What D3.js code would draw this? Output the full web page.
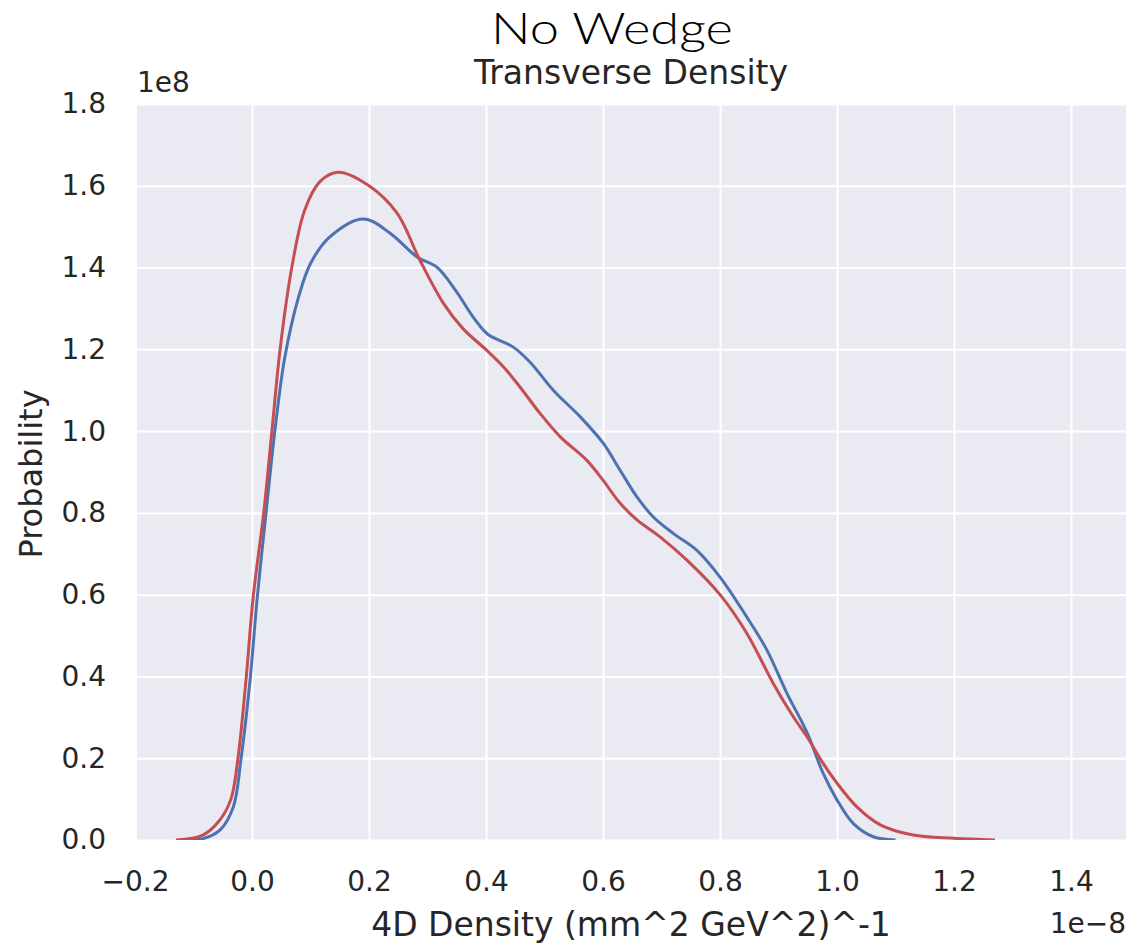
<!DOCTYPE html>
<html>
<head>
<meta charset="utf-8">
<script src="https://cdn.jsdelivr.net/npm/d3@7"></script>
<style>
  body { margin: 0; background: #fff; }
  text { font-family: "DejaVu Sans", sans-serif; fill: #262626; }
</style>
</head>
<body>
<svg id="viz" width="1132" height="947"></svg>
<script>
// tick values (x in units of 1e-8, y in units of 1e8)
var xTicks = [-0.2, 0.0, 0.2, 0.4, 0.6, 0.8, 1.0, 1.2, 1.4];
var yTicks = [0.0, 0.2, 0.4, 0.6, 0.8, 1.0, 1.2, 1.4, 1.6, 1.8];

// red KDE curve
var redX = [-0.13, -0.084, -0.055, -0.036, -0.024, -0.01, 0.002, 0.02, 0.034, 0.048, 0.068, 0.09, 0.116, 0.147,
            0.2, 0.248, 0.287, 0.327, 0.361, 0.401, 0.43, 0.458, 0.492, 0.527, 0.572, 0.6, 0.629, 0.658,
            0.697, 0.743, 0.8, 0.846, 0.891, 0.925, 0.949, 0.976, 1.0, 1.034, 1.074, 1.13, 1.2, 1.27];
var redY = [0.0, 0.012, 0.049, 0.1, 0.2, 0.396, 0.594, 0.8, 1.0, 1.2, 1.4, 1.54, 1.61, 1.633,
            1.6, 1.533, 1.418, 1.313, 1.25, 1.198, 1.157, 1.108, 1.044, 0.986, 0.929, 0.88, 0.824, 0.783,
            0.742, 0.685, 0.6, 0.505, 0.383, 0.302, 0.252, 0.188, 0.139, 0.081, 0.037, 0.012, 0.004, 0.0];

// blue KDE curve
var blueX = [-0.11, -0.084, -0.055, -0.032, -0.019, -0.003, 0.009, 0.024, 0.039, 0.056, 0.08, 0.1, 0.133, 0.19,
             0.236, 0.282, 0.316, 0.35, 0.378, 0.403, 0.446, 0.475, 0.515, 0.561, 0.6, 0.629, 0.658, 0.686,
             0.72, 0.76, 0.8, 0.846, 0.88, 0.914, 0.949, 0.976, 1.0, 1.028, 1.062, 1.1];
var blueY = [0.0, 0.003, 0.024, 0.081, 0.196, 0.396, 0.594, 0.8, 1.0, 1.18, 1.33, 1.41, 1.475, 1.519,
             1.484, 1.426, 1.401, 1.34, 1.279, 1.237, 1.206, 1.169, 1.1, 1.035, 0.971, 0.905, 0.839, 0.79,
             0.75, 0.709, 0.643, 0.545, 0.465, 0.36, 0.262, 0.164, 0.098, 0.04, 0.008, 0.0];

var margins = {top: 104, right: 6, bottom: 107, left: 137};

var svg = d3.select("#viz"),
    width = +svg.attr("width") - margins.left - margins.right,
    height = +svg.attr("height") - margins.top - margins.bottom;

var xScale = d3.scaleLinear().domain([-0.1966, 1.494]).range([0, width]);
var yScale = d3.scaleLinear().domain([0, 1.8]).range([height, 0]);

var g = svg.append("g").attr("transform", "translate(" + margins.left + "," + margins.top + ")");

g.append("rect").attr("width", width).attr("height", height).attr("fill", "#EAEAF2");

g.append("clipPath").attr("id", "plotClip")
  .append("rect").attr("width", width).attr("height", height);

// grid lines
var xGrid = g.append("g")
  .attr("transform", "translate(0," + height + ")")
  .call(d3.axisBottom(xScale).tickValues(xTicks).tickSize(-height).tickFormat(""));
var yGrid = g.append("g")
  .call(d3.axisLeft(yScale).tickValues(yTicks).tickSize(-width).tickFormat(""));
[xGrid, yGrid].forEach(function(ax){
  ax.select(".domain").remove();
  ax.selectAll("line").attr("stroke", "#fff").attr("stroke-width", 2);
});

// tick labels
var fmt = d3.format(".1f");
var xAxis = g.append("g")
  .attr("transform", "translate(0," + height + ")")
  .call(d3.axisBottom(xScale).tickValues(xTicks).tickSize(0).tickPadding(31).tickFormat(fmt));
var yAxis = g.append("g")
  .call(d3.axisLeft(yScale).tickValues(yTicks).tickSize(0).tickPadding(31).tickFormat(fmt));
[xAxis, yAxis].forEach(function(ax){
  ax.select(".domain").remove();
  ax.selectAll("text").attr("font-size", 28).attr("font-family", "DejaVu Sans").attr("fill", "#262626");
});

var line = d3.line()
  .x(function(d){ return xScale(d[0]); })
  .y(function(d){ return yScale(d[1]); })
  .curve(d3.curveCatmullRom.alpha(0.5));

var series = [
  {xs: blueX, ys: blueY, color: "#4C72B0"},
  {xs: redX, ys: redY, color: "#C44E52"}
];
series.forEach(function(s){
  g.append("path")
    .datum(d3.zip(s.xs, s.ys))
    .attr("clip-path", "url(#plotClip)")
    .attr("fill", "none")
    .attr("stroke", s.color)
    .attr("stroke-width", 3)
    .attr("d", line);
});

// offset texts
svg.append("text").attr("x", 137).attr("y", 92).attr("font-size", 28).text("1e8");
svg.append("text").attr("x", 1126).attr("y", 933).attr("font-size", 28)
  .attr("text-anchor", "end").text("1e\u22128");

// axis labels
svg.append("text").attr("x", 631).attr("y", 936).attr("font-size", 33)
  .attr("text-anchor", "middle").text("4D Density (mm^2 GeV^2)^-1");
svg.append("text").attr("transform", "translate(42,474) rotate(-90)").attr("font-size", 32)
  .attr("text-anchor", "middle").text("Probability");

// titles
svg.append("text").attr("x", 631).attr("y", 84).attr("font-size", 33)
  .attr("text-anchor", "middle").text("Transverse Density");
svg.append("text").attr("transform", "translate(612,44) scale(1.22,1)").attr("font-size", 43)
  .attr("text-anchor", "middle")
  .style("font-family", "Lato, sans-serif").style("font-weight", 300).style("fill", "#000")
  .text("No Wedge");
</script>
</body>
</html>
